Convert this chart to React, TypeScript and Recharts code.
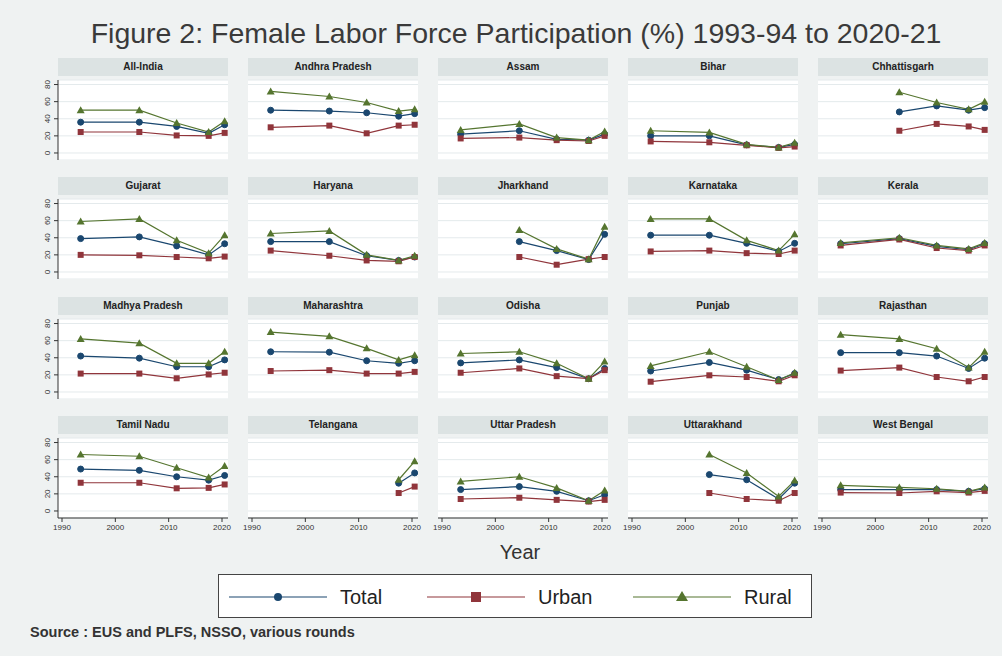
import React from 'react';
import { LineChart, Line, XAxis, YAxis, CartesianGrid } from 'recharts';

const years = [1993.5, 2004.5, 2011.5, 2017.5, 2020.5];
const xTicks = [1990, 2000, 2010, 2020];
const yTicks = [0, 20, 40, 60, 80];

const states = [
  'All-India', 'Andhra Pradesh', 'Assam', 'Bihar', 'Chhattisgarh',
  'Gujarat', 'Haryana', 'Jharkhand', 'Karnataka', 'Kerala',
  'Madhya Pradesh', 'Maharashtra', 'Odisha', 'Punjab', 'Rajasthan',
  'Tamil Nadu', 'Telangana', 'Uttar Pradesh', 'Uttarakhand', 'West Bengal',
];

type V = number | null;

const total: V[][] = [
  [36, 36, 31, 23, 33],
  [50, 49, 47, 43, 46],
  [22, 26, 16, 15, 22],
  [20, 20, 9.5, 6.5, 10],
  [null, 48, 55, 50, 53],
  [39, 41, 30.5, 20, 33],
  [35.5, 35.5, 19, 13.5, 17.5],
  [null, 35.5, 25, 14.5, 44],
  [43, 43, 33.5, 24, 33.5],
  [33, 39, 30, 26, 33],
  [42, 39.5, 29.5, 29.5, 37.5],
  [47, 46.5, 36.5, 33.5, 36.5],
  [34, 37.5, 28.5, 15.5, 27.5],
  [24.5, 34.5, 25.5, 14.5, 21.5],
  [46, 46, 42, 27.5, 39.5],
  [49, 47.5, 40, 36, 41.5],
  [null, null, null, 32.5, 44.5],
  [25, 28.5, 23, 12, 19],
  [null, 42.5, 36.5, 14, 32.5],
  [25, 25, 25, 23, 26],
];

const urban: V[][] = [
  [24.5, 24.5, 20.5, 20, 23.5],
  [30, 32, 23, 32, 33],
  [17, 18, 15, 14, 20],
  [13.5, 12.5, 9, 6, 7.5],
  [null, 26, 34, 31, 27],
  [20, 19.5, 17.5, 16, 18],
  [25, 19, 13.5, 12.5, 17.5],
  [null, 17.5, 8.5, 15, 17.5],
  [24, 25, 22, 21, 25],
  [31, 38, 28, 25, 31],
  [21.5, 21.5, 16, 20.5, 22.5],
  [24.5, 25.5, 21.5, 21.5, 23.5],
  [22.5, 27.5, 18.5, 15.5, 25.5],
  [12, 19.5, 17.5, 12.5, 19.5],
  [25, 28.5, 17.5, 12.5, 17.5],
  [33, 33, 26.5, 27, 31],
  [null, null, null, 21, 28.5],
  [14, 15.5, 13, 11, 13],
  [null, 21, 14, 12, 21],
  [21.5, 21, 23, 21.5, 23.5],
];

const rural: V[][] = [
  [50, 50, 35, 24.5, 37],
  [72, 66, 59, 49, 51],
  [27, 34, 18, 15, 25],
  [26, 24, 10, 6.5, 12],
  [null, 71, 59, 51, 60],
  [59, 62, 37, 22, 43],
  [45, 48, 20, 13.5, 19],
  [null, 49, 27, 15, 53],
  [62, 62, 37, 25, 44],
  [34, 40, 31, 27, 34],
  [62, 57, 33.5, 33.5, 47],
  [70, 65, 51, 37.5, 43],
  [45, 47, 33.5, 15.5, 35.5],
  [30.5, 47, 29.5, 14, 22.5],
  [67, 62, 50.5, 28.5, 47],
  [66, 64, 50.5, 39, 52.5],
  [null, null, null, 36.5, 58],
  [34.5, 40, 27, 12, 24],
  [null, 66, 44.5, 17, 35.5],
  [30, 27.5, 26, 23, 27.5],
];

const NAVY = '#1a476f';
const MAROON = '#90353b';
const GREEN = '#55752f';
const FONT = '"Liberation Sans", Arial, sans-serif';

const PLOT_W = 170;
const PLOT_H = 80;
const COL_X = 58;
const COL_STEP = 190;
const ROW_Y = 80;
const ROW_STEP = 119.3;
const Y_AXIS_W = 30;
const PAD_R = 12;
const PAD_L = 12;

const circleDot = (p: any) => {
  if (p.cy == null || p.value == null) return <g key={p.index} />;
  return <circle key={p.index} cx={p.cx} cy={p.cy} r={3} fill={NAVY} stroke={NAVY} />;
};
const squareDot = (p: any) => {
  if (p.cy == null || p.value == null) return <g key={p.index} />;
  return <rect key={p.index} x={p.cx - 3} y={p.cy - 3} width={6} height={6} fill={MAROON} />;
};
const triangleDot = (p: any) => {
  if (p.cy == null || p.value == null) return <g key={p.index} />;
  return (
    <polygon
      key={p.index}
      points={`${p.cx},${p.cy - 4} ${p.cx - 4},${p.cy + 3} ${p.cx + 4},${p.cy + 3}`}
      fill={GREEN}
    />
  );
};

const YTick = (p: any) => (
  <text
    transform={`translate(${p.x - 2},${p.y}) rotate(-90)`}
    textAnchor="middle"
    fontSize={8}
    fill="#333"
    fontFamily={FONT}
  >
    {p.payload.value}
  </text>
);

const Panel = ({ idx }: { idx: number }) => {
  const col = idx % 5;
  const row = Math.floor(idx / 5);
  const plotLeft = COL_X + col * COL_STEP;
  const plotTop = ROW_Y + row * ROW_STEP;
  const showY = col === 0;
  const showX = row === 3;
  const data = years.map((yr, i) => ({
    year: yr,
    total: total[idx][i],
    urban: urban[idx][i],
    rural: rural[idx][i],
  }));
  const leftSpace = showY ? Y_AXIS_W : PAD_L;
  const w = PLOT_W + leftSpace + PAD_R;
  const h = PLOT_H + (showX ? 22 : 0) + 4;
  return (
    <>
      <div
        style={{
          position: 'absolute',
          left: plotLeft,
          top: plotTop - 22,
          width: PLOT_W,
          height: 18,
          background: '#dce3e3',
          color: '#222',
          fontFamily: FONT,
          fontSize: 10,
          fontWeight: 'bold',
          lineHeight: '18px',
          textAlign: 'center',
        }}
      >
        {states[idx]}
      </div>
      <div style={{ position: 'absolute', left: plotLeft - leftSpace, top: plotTop - 4 }}>
        <LineChart
          width={w}
          height={h}
          data={data}
          margin={{ top: 4, right: PAD_R, bottom: 0, left: showY ? 0 : PAD_L }}
        >
          <CartesianGrid vertical={false} fill="#ffffff" stroke="#e4eaec" />
          <XAxis
            type="number"
            dataKey="year"
            domain={[1989.25, 2021.125]}
            ticks={xTicks}
            interval={0}
            allowDataOverflow
            hide={!showX}
            height={22}
            stroke="#333"
            tickSize={4}
            tick={{ fontSize: 8, fill: '#333', fontFamily: FONT }}
          />
          <YAxis
            type="number"
            domain={[-8.2, 85.3]}
            ticks={yTicks}
            interval={0}
            allowDataOverflow
            hide={!showY}
            width={Y_AXIS_W}
            stroke="#333"
            tickSize={4}
            tick={<YTick />}
          />
          <Line type="linear" dataKey="total" stroke={NAVY} strokeWidth={1.2} dot={circleDot} isAnimationActive={false} />
          <Line type="linear" dataKey="urban" stroke={MAROON} strokeWidth={1.2} dot={squareDot} isAnimationActive={false} />
          <Line type="linear" dataKey="rural" stroke={GREEN} strokeWidth={1.2} dot={triangleDot} isAnimationActive={false} />
        </LineChart>
      </div>
    </>
  );
};

const LegendItem = ({ x, label, kind, color }: { x: number; label: string; kind: string; color: string }) => (
  <>
    <svg style={{ position: 'absolute', left: x, top: 12 }} width={100} height={20}>
      <line x1={0} y1={10} x2={98} y2={10} stroke={color} strokeWidth={1.2} />
      {kind === 'circle' && <circle cx={49} cy={10} r={4} fill={color} />}
      {kind === 'square' && <rect x={44} y={5} width={10} height={10} fill={color} />}
      {kind === 'triangle' && <polygon points="49,4 43,14 55,14" fill={color} />}
    </svg>
    <div
      style={{
        position: 'absolute',
        left: x + 111,
        top: 10,
        fontFamily: FONT,
        fontSize: 20,
        color: '#222',
        lineHeight: '24px',
      }}
    >
      {label}
    </div>
  </>
);

export default function App() {
  return (
    <div
      style={{
        position: 'absolute',
        left: 0,
        top: 0,
        width: 1002,
        height: 656,
        background: '#eff2f2',
        overflow: 'hidden',
      }}
    >
      <div
        style={{
          position: 'absolute',
          left: 0,
          top: 16,
          width: 1032,
          textAlign: 'center',
          fontFamily: FONT,
          fontSize: 28.5,
          color: '#3a3a3a',
          lineHeight: '34px',
        }}
      >
        Figure 2: Female Labor Force Participation (%) 1993-94 to 2020-21
      </div>
      {states.map((_, i) => (
        <Panel key={i} idx={i} />
      ))}
      <div
        style={{
          position: 'absolute',
          left: 0,
          top: 540,
          width: 1040,
          textAlign: 'center',
          fontFamily: FONT,
          fontSize: 20,
          color: '#333',
          lineHeight: '24px',
        }}
      >
        Year
      </div>
      <div
        style={{
          position: 'absolute',
          left: 218,
          top: 574,
          width: 592,
          height: 42,
          background: '#fff',
          border: '1.5px solid #444',
        }}
      >
        <LegendItem x={10} label="Total" kind="circle" color={NAVY} />
        <LegendItem x={208} label="Urban" kind="square" color={MAROON} />
        <LegendItem x={414} label="Rural" kind="triangle" color={GREEN} />
      </div>
      <div
        style={{
          position: 'absolute',
          left: 30,
          top: 624,
          fontFamily: FONT,
          fontSize: 14.5,
          fontWeight: 'bold',
          color: '#333',
        }}
      >
        Source : EUS and PLFS, NSSO, various rounds
      </div>
    </div>
  );
}
